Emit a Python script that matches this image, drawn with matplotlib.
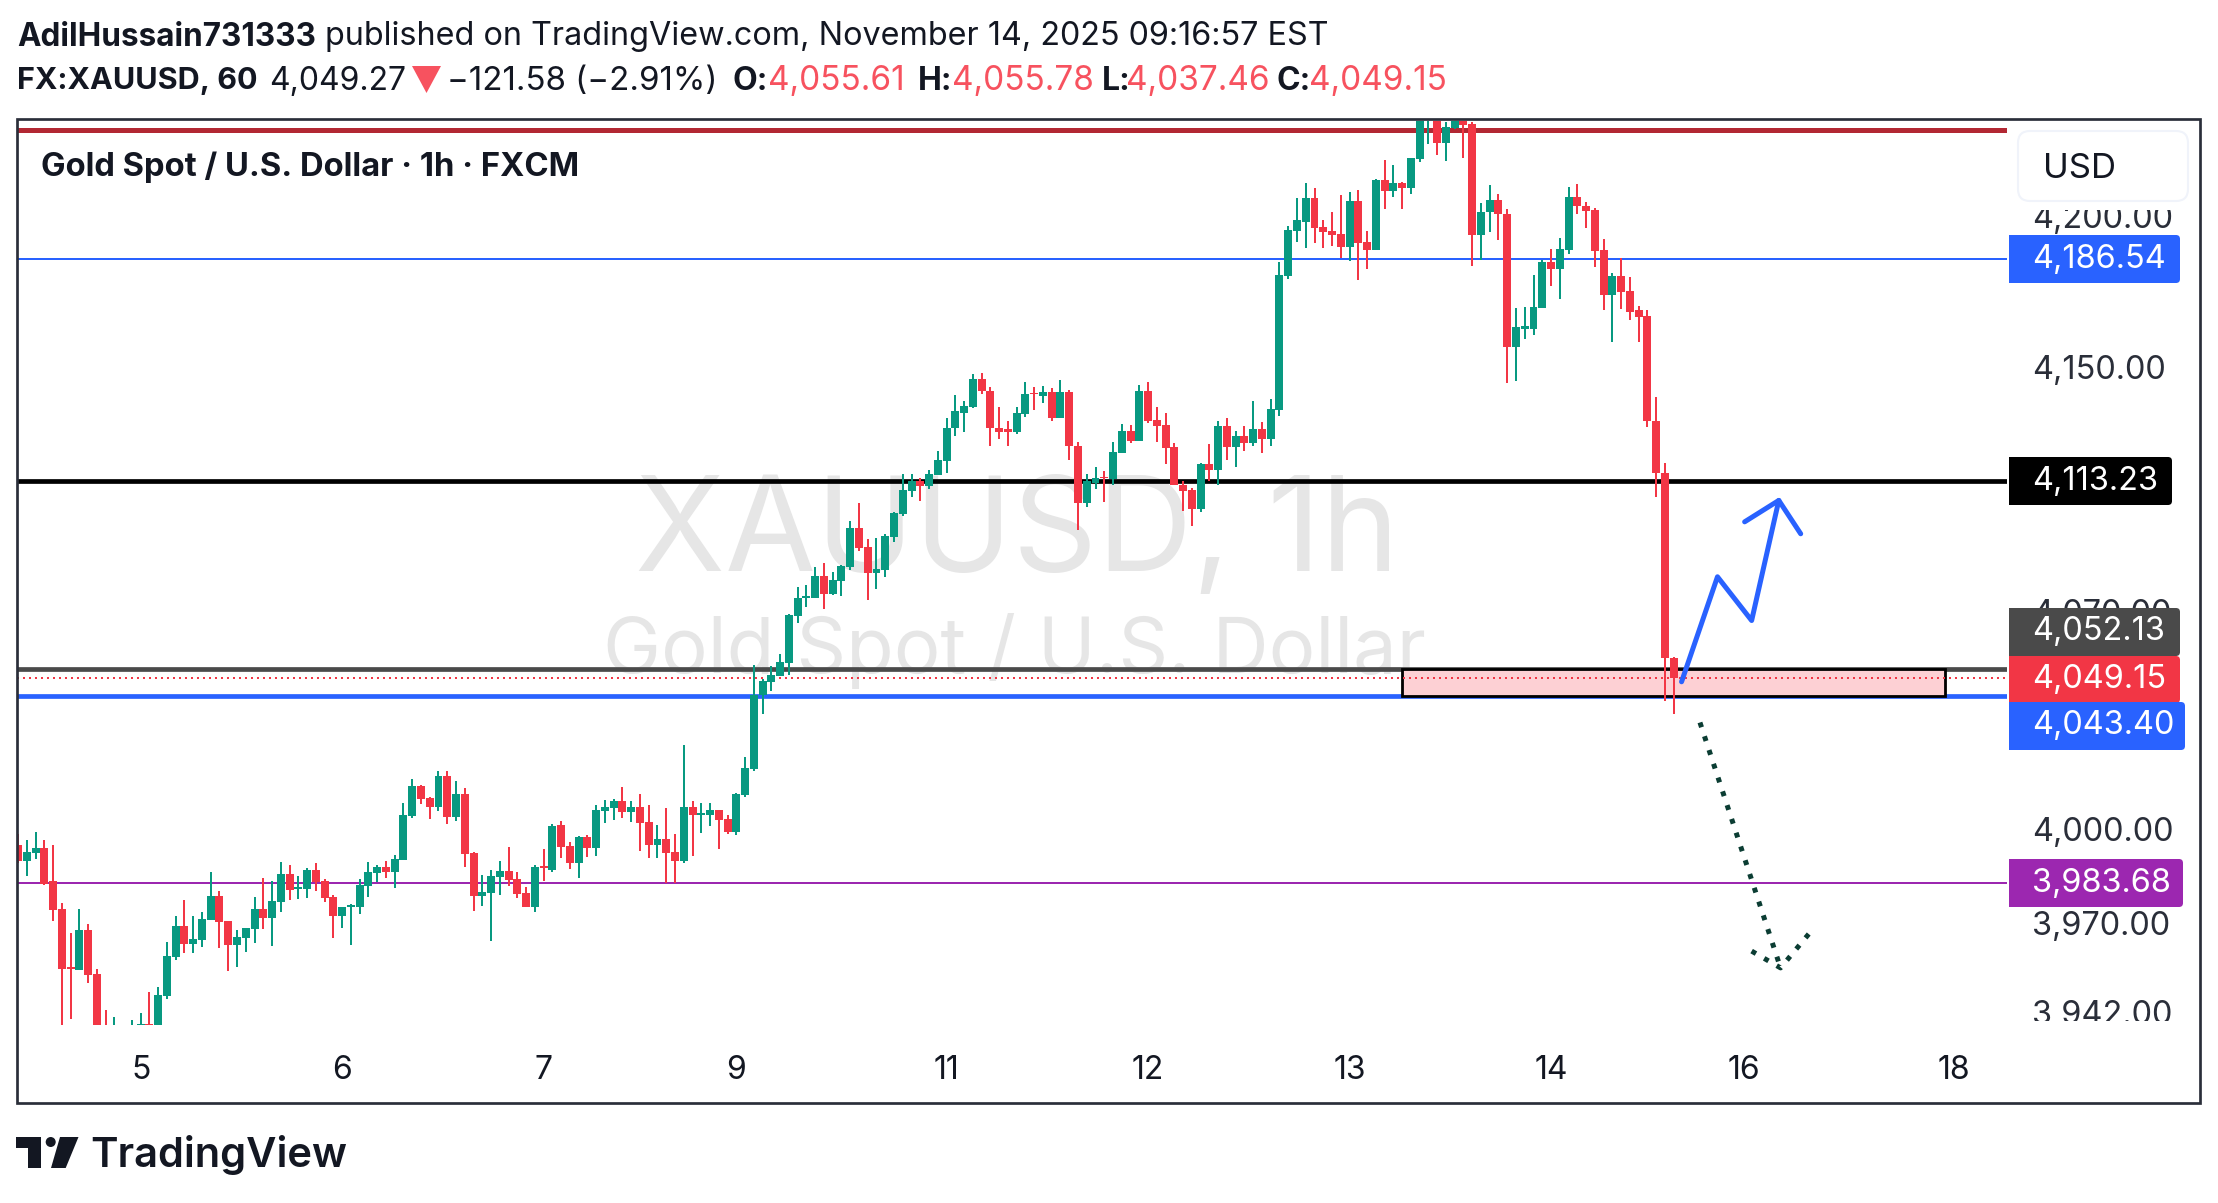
import matplotlib
matplotlib.use('Agg')
import matplotlib.pyplot as plt
from matplotlib.patches import Rectangle, FancyBboxPatch, Polygon, Circle
from matplotlib.transforms import ScaledTranslation

plt.rcParams['font.family'] = ['Inter', 'DejaVu Sans']

# hourly bars
opens = [3995.6,3990.6,3993.1,3994.7,3984.2,3975.3,3957.0,3956.0,3968.7,3954.7,
         3936,3925,3928,3928,3934,3939.2,3933,3947.8,3960.1,3970.0,
         3964.3,3965.5,3971.9,3979.5,3971.5,3963.9,3966.2,3969.0,3975.3,3972.5,
         3977.6,3986.4,3981.7,3981.7,3987.7,3984.2,3979.2,3973.1,3976.0,3976.0,
         3982.6,3986.7,3988.7,3987.1,3990.9,4004.8,4014.4,4010.5,4007.7,4017.5,
         4004.5,4011.8,3993.1,3979.5,3980.4,3985.5,3987.4,3984.9,3980.4,3976.0,
         3989.0,3987.7,4001.9,3995.2,3989.8,3998.1,3994.6,4006.4,4007.4,4009.6,
         4006.1,4007.7,4002.9,3995.5,3997.5,3993.3,3990.4,4007.7,4005.1,4005.1,
         4006.7,4003.8,3999.7,4011.5,4019.8,4043.5,4047.7,4049.7,4053.9,4069.2,
         4075.0,4075.0,4082.2,4076.3,4080.5,4085.1,4097.8,4091.6,4083.1,4084.1,
         4094.8,4102.3,4109.8,4113.0,4111.4,4115.0,4119.6,4130.4,4135.6,4137.6,
         4146.8,4142.9,4130.7,4130.1,4129.4,4135.3,4142.2,4141.2,4142.5,4134.0,
         4142.5,4124.8,4106.1,4112.4,4114.6,4113.7,4122.5,4129.5,4126.2,4142.7,
         4133.1,4131.4,4124.2,4112.0,4110.3,4104.1,4118.6,4116.6,4131.1,4124.2,
         4127.8,4125.5,4130.1,4126.8,4136.4,4180.9,4196.0,4199.0,4206.8,4197.3,
         4196.0,4195.0,4190.6,4205.8,4192.3,4189.6,4212.9,4209.1,4211.8,4210.2,
         4219.9,4232.8,4233.1,4225.3,4230.4,4235.0,4231.7,4194.6,4202.1,4206.4,
         4201.7,4157.2,4163.4,4163.4,4170.3,4185.5,4183.2,4189.6,4207.1,4204.4,
         4203.0,4189.5,4174.6,4180.9,4176.0,4169.4,4167.6,4133.0,4115.9,4055.61]
highs = [3999.1,3997.2,3999.8,3997.2,3995.6,3977.3,3967.7,3975.3,3970.6,3956.3,
         3943.6,3941.4,3936,3940.2,3942.4,3949.0,3950.6,3964.9,3973.1,3978.2,
         3973.1,3974.4,3987.1,3981.1,3971.5,3968.7,3969.3,3979.2,3985.2,3984.2,
         3990.3,3989.3,3985.8,3988.4,3989.9,3984.9,3979.8,3976.0,3976.9,3984.9,
         3990.3,3989.3,3990.6,3992.5,4009.0,4016.6,4014.7,4010.9,4019.1,4019.1,
         4015.9,4013.7,3993.4,3986.1,3987.7,3990.6,3995.0,3987.1,3982.3,3989.3,
         3994.4,4002.3,4003.2,3996.5,3998.4,3998.7,4008.3,4009.9,4010.2,4014.1,
         4009.6,4011.8,4008.3,4001.9,4007.4,3999.1,4027.5,4009.6,4009.0,4009.0,
         4006.7,4005.1,4012.2,4023.7,4053.3,4048.7,4052.9,4056.8,4069.8,4078.6,
         4079.2,4085.1,4086.4,4083.5,4085.6,4100.0,4105.9,4094.2,4094.5,4095.8,
         4103.0,4115.6,4115.3,4114.3,4116.6,4122.9,4133.7,4141.3,4139.6,4148.2,
         4148.8,4144.2,4137.6,4133.0,4137.6,4145.8,4144.2,4144.5,4143.9,4146.5,
         4143.2,4126.1,4115.6,4117.6,4116.3,4126.1,4131.8,4131.4,4144.6,4145.6,
         4137.4,4135.4,4125.5,4113.0,4111.0,4118.9,4125.2,4132.8,4133.8,4129.5,
         4131.1,4139.4,4132.4,4140.0,4185.5,4197.7,4206.8,4211.8,4210.2,4199.7,
         4202.1,4207.8,4208.8,4209.5,4196.0,4213.2,4219.6,4217.9,4212.2,4220.3,
         4234.0,4236.0,4235.0,4232.4,4238.0,4237.0,4232.4,4205.1,4211.2,4208.4,
         4203.4,4170.3,4170.7,4181.2,4186.2,4189.9,4193.6,4210.5,4211.5,4205.7,
         4203.7,4193.3,4181.9,4186.8,4180.6,4171.0,4169.6,4140.7,4118.9,4055.78]
lows = [3990.0,3985.9,3991.2,3983.0,3971.5,3938.0,3940.5,3956.0,3951.9,3930,
        3925,3920,3922,3925,3930,3930,3930,3946.8,3959.2,3961.4,
        3961.4,3963.3,3971.9,3963.0,3955.7,3957.0,3961.7,3964.6,3969.0,3963.6,
        3974.4,3978.2,3978.5,3978.8,3981.1,3977.6,3966.2,3969.3,3963.9,3973.8,
        3979.2,3983.9,3985.2,3982.0,3990.9,4004.2,4008.6,4003.9,4006.4,4002.3,
        4003.3,3988.7,3974.7,3976.3,3965.2,3979.8,3982.6,3978.8,3976.0,3974.4,
        3984.2,3987.1,3991.4,3987.9,3985.0,3991.7,3992.0,4002.6,4003.5,4004.2,
        4002.9,3993.6,3991.4,3991.4,3983.7,3983.7,3989.8,3992.0,3999.4,4001.6,
        3994.3,3999.1,3998.7,4010.9,4019.2,4037.4,4044.8,4049.7,4050.0,4066.9,
        4072.1,4075.0,4071.4,4076.0,4075.7,4084.1,4090.3,4074.4,4077.9,4081.8,
        4093.2,4101.7,4107.8,4106.5,4110.4,4115.0,4115.9,4127.8,4129.4,4137.0,
        4141.6,4124.5,4126.8,4124.8,4128.7,4134.3,4136.6,4138.9,4133.0,4133.7,
        4119.9,4097.1,4104.8,4110.4,4106.4,4111.7,4122.2,4125.5,4126.2,4132.1,
        4125.8,4118.6,4111.7,4103.4,4098.5,4103.1,4113.3,4112.0,4120.2,4117.6,
        4122.9,4124.8,4122.5,4124.8,4134.4,4179.9,4192.2,4190.2,4191.9,4190.2,
        4190.9,4186.9,4185.9,4179.6,4183.2,4189.6,4203.1,4207.4,4203.1,4208.4,
        4218.9,4225.0,4221.3,4219.2,4230.1,4220.3,4184.2,4186.2,4195.6,4192.9,
        4145.3,4146.0,4160.1,4161.1,4170.3,4177.6,4173.3,4188.2,4201.4,4197.0,
        4183.9,4169.4,4158.8,4170.0,4166.4,4159.1,4130.9,4108.0,4041.7,4037.46]
closes = [3990.6,3993.4,3994.7,3983.3,3975.0,3956.3,3956.3,3968.7,3954.4,3933,
          3930,3932,3932,3934,3939.2,3933,3948.1,3960.4,3970.0,3964.3,
          3965.8,3972.2,3979.5,3971.2,3963.9,3966.5,3969.3,3975.3,3972.5,3977.9,
          3986.4,3981.4,3982.3,3987.7,3983.9,3978.8,3973.1,3976.0,3976.6,3982.9,
          3987.1,3988.7,3987.1,3991.2,4005.2,4014.4,4010.2,4007.7,4017.5,4004.5,
          4011.8,3992.8,3979.5,3980.7,3985.8,3987.4,3984.5,3980.1,3976.0,3988.7,
          3988.4,4001.7,3994.9,3989.8,3998.1,3994.6,4006.7,4007.7,4009.6,4006.1,
          4007.7,4002.6,3995.5,3997.5,3993.0,3990.4,4007.7,4005.1,4005.8,4006.7,
          4003.5,3999.7,4011.8,4020.2,4043.8,4048.1,4050.0,4054.2,4069.5,4075.0,
          4075.7,4082.2,4076.3,4080.9,4085.4,4097.8,4091.3,4083.1,4084.4,4095.2,
          4102.6,4110.1,4113.0,4111.4,4115.3,4119.9,4130.7,4136.0,4137.9,4146.8,
          4142.6,4130.4,4129.4,4129.4,4135.6,4141.9,4141.6,4142.5,4134.0,4142.5,
          4124.5,4106.1,4113.0,4114.3,4114.0,4122.8,4129.5,4126.2,4142.7,4132.8,
          4131.1,4123.9,4111.7,4110.0,4104.1,4118.6,4116.6,4131.1,4124.2,4127.8,
          4125.5,4130.1,4126.8,4136.7,4181.2,4196.3,4199.4,4206.8,4197.0,4195.6,
          4194.6,4190.6,4205.8,4191.9,4189.6,4212.9,4209.1,4211.8,4210.2,4220.3,
          4232.8,4233.5,4225.3,4230.7,4236.0,4231.4,4194.6,4202.4,4206.4,4201.4,
          4157.2,4163.8,4164.1,4170.7,4185.5,4183.2,4189.9,4207.1,4204.1,4202.7,
          4189.2,4174.6,4180.9,4175.6,4169.0,4167.4,4132.7,4115.7,4055.6,4049.15]

day_bars = [14, 37, 60, 82, 106, 129, 152, 175, 197, 221]
day_labels = ['5', '6', '7', '9', '11', '12', '13', '14', '16', '18']
price_ticks = [3942, 3970, 4000, 4070, 4150, 4200]

top_level = 4229.8
level_blue_hi = 4186.54
level_black = 4113.23
level_grey = 4052.13
level_last = 4049.15
level_blue_lo = 4043.40
level_purple = 3983.68

zone_bars = [158, 220]
path_up = ([189.9, 194, 197.9, 201], [4047.9, 4081.9, 4067.7, 4106.8])
path_up_head = ([197.1, 201, 203.5], [4099.8, 4106.8, 4095.9])
path_down = ([192, 201.2], [4034.8, 3956.7])
path_down_head = ([197.9, 201.2, 204.6], [3962, 3956.7, 3968])

GREEN = '#089981'
RED = '#f23645'
INK = '#131722'
PX = 0.72  # px to pt at dpi 100

fig = plt.figure(figsize=(22.18, 12.03), dpi=100)
W, H = 2218, 1203

# price pane
left, right, top, bottom = 17, 2007, 120.5, 1024.5
ax = fig.add_axes([left / W, 1 - bottom / H, (right - left) / W, (bottom - top) / H])
ax.set_yscale('log')
ax.set_ylim(3938.9, 4232.97)
ax.set_xlim(-0.114, 227.05)
for s in ax.spines.values():
    s.set_visible(False)

ax.set_yticks(price_ticks, [f'{p:,.2f}' for p in price_ticks])
ax.minorticks_off()
ax.yaxis.tick_right()
ax.tick_params(axis='y', length=0, pad=18, labelsize=23.4, labelcolor='#2a2e39')
ax.set_xticks(day_bars, day_labels)
ax.tick_params(axis='x', length=0, pad=22, labelsize=23, labelcolor=INK)
for lab in ax.get_yticklabels():
    lab.set_transform(lab.get_transform() + ScaledTranslation(0, 2.5 / 100, fig.dpi_scale_trans))

ax.text(0.5025, 0.540, 'XAUUSD, 1h', transform=ax.transAxes, ha='center', va='center',
        fontsize=95, color='#e6e6e6', zorder=0)
ax.text(0.5015, 0.413, 'Gold Spot / U.S. Dollar', transform=ax.transAxes, ha='center', va='center',
        fontsize=56, color='#e6e6e6', zorder=0)

ax.axhline(top_level, color='#b22833', lw=5 * PX, zorder=1)
ax.axhline(level_blue_hi, color='#2962ff', lw=2 * PX, zorder=1)
ax.axhline(level_black, color='black', lw=4.7 * PX, zorder=1)
ax.axhline(level_grey, color='#4a4a4a', lw=4.7 * PX, zorder=1)
ax.axhline(level_blue_lo, color='#2962ff', lw=4.7 * PX, zorder=1)
ax.axhline(level_purple, color='#9c27b0', lw=2 * PX, zorder=1)

ax.add_patch(Rectangle((zone_bars[0], level_blue_lo), zone_bars[1] - zone_bars[0], level_grey - level_blue_lo,
                       facecolor='#fdd0d4', edgecolor='black', lw=2.8 * PX, zorder=2))
ax.axhline(level_last, color=RED, lw=2 * PX, ls=(0, (1, 2)), zorder=2.5)

xs = list(range(len(opens)))
colors = [GREEN if c >= o else RED for o, c in zip(opens, closes)]
ax.vlines(xs, lows, highs, colors=colors, lw=2 * PX, zorder=3)
body_lo = [min(o, c) for o, c in zip(opens, closes)]
body_h = [max(abs(c - o), 0.5) for o, c in zip(opens, closes)]
ax.bar(xs, body_h, bottom=body_lo, width=0.91, color=colors, linewidth=0, zorder=3)

ax.plot(*path_up, color='#2962ff', lw=5 * PX, solid_capstyle='round', solid_joinstyle='round', zorder=4)
ax.plot(*path_up_head, color='#2962ff', lw=5 * PX, solid_capstyle='round', solid_joinstyle='round', zorder=4)
ax.plot(*path_down, color='#0b3d33', lw=5 * PX, ls=(0, (1, 1.9)), zorder=4)
ax.plot(*path_down_head, color='#0b3d33', lw=5 * PX, ls=(0, (1, 1.9)), zorder=4)

# page furniture, in pixel coordinates
px = fig.add_axes([0, 0, 1, 1], zorder=5, facecolor='none')
px.set_xlim(0, W)
px.set_ylim(H, 0)
px.axis('off')

px.add_patch(Rectangle((2007.5, 121), 191, 89, fc='white', ec='none'))
px.add_patch(Rectangle((2007.5, 1021), 191, 74, fc='white', ec='none'))
px.add_patch(FancyBboxPatch((2024, 137), 158, 58, boxstyle='round,pad=6,rounding_size=12',
                            fc='white', ec='#f0f3fa', lw=1.5))
px.text(2043, 169, 'USD', ha='left', va='center', fontsize=25, color=INK)
px.add_patch(Rectangle((16.5, 119), 2183.5, 984, fc='none', ec='#2a2e39', lw=2.7 * PX))


def badge(value, y0, y1, x1, color):
    px.add_patch(FancyBboxPatch((2012, y0 + 3), x1 - 2012 - 3, y1 - y0 - 6, boxstyle='round,pad=3,rounding_size=4',
                                fc=color, ec='none'))
    px.add_patch(Rectangle((2009, y0), 30, y1 - y0, fc=color, ec='none'))
    px.text(2032, (y0 + y1) / 2, f'{value:,.2f}', ha='left', va='center', fontsize=23.4, color='white')


badge(level_blue_hi, 235, 283, 2180, '#2962ff')
badge(level_black, 457, 505, 2172, 'black')
badge(level_grey, 608, 656, 2180, '#4a4a4a')
badge(level_last, 656, 703, 2180, RED)
badge(level_blue_lo, 702, 750, 2185, '#2962ff')
badge(level_purple, 859, 907, 2183, '#9c27b0')

# header lines
px.text(17, 37, 'AdilHussain731333', fontsize=22.7, fontweight='bold', color=INK, va='center')
px.text(325, 37, 'published on TradingView.com, November 14, 2025 09:16:57 EST', fontsize=23.3, color=INK, va='center')

header2 = [(17, 'FX:XAUUSD, 60', 'bold', INK, 22), (269, '4,049.27', 'normal', INK, 23),
           (447, '\u2212121.58 (\u22122.91%)', 'normal', INK, 23.8),
           (733, 'O:', 'bold', INK, 23), (768, f'{opens[-1]:,.2f}', 'normal', '#f7525f', 24),
           (918, 'H:', 'bold', INK, 23), (952, f'{highs[-1]:,.2f}', 'normal', '#f7525f', 24),
           (1102, 'L:', 'bold', INK, 23), (1126, f'{lows[-1]:,.2f}', 'normal', '#f7525f', 24),
           (1276, 'C:', 'bold', INK, 23), (1309, f'{closes[-1]:,.2f}', 'normal', '#f7525f', 24)]
for hx, txt, weight, col, size in header2:
    px.text(hx, 81, txt, fontsize=size, fontweight=weight, color=col, va='center')
px.add_patch(Polygon([(412, 66), (441, 66), (426.5, 93)], fc='#f7525f', ec='none'))

px.text(41, 167, 'Gold Spot / U.S. Dollar \u00b7 1h \u00b7 FXCM', fontsize=23.6, fontweight='bold', color=INK, va='center')

# logo
px.add_patch(Polygon([(16, 1137), (41, 1137), (41, 1168), (28, 1168), (28, 1148), (16, 1148)], fc=INK, ec='none'))
px.add_patch(Circle((50.7, 1142), 5, fc=INK, ec='none'))
px.add_patch(Polygon([(60, 1137), (78.5, 1137), (65.7, 1168), (51, 1168)], fc=INK, ec='none'))
px.text(90, 1155, 'TradingView', fontsize=30, fontweight='semibold', color=INK, va='center')

fig.savefig('out.png', dpi=100)
